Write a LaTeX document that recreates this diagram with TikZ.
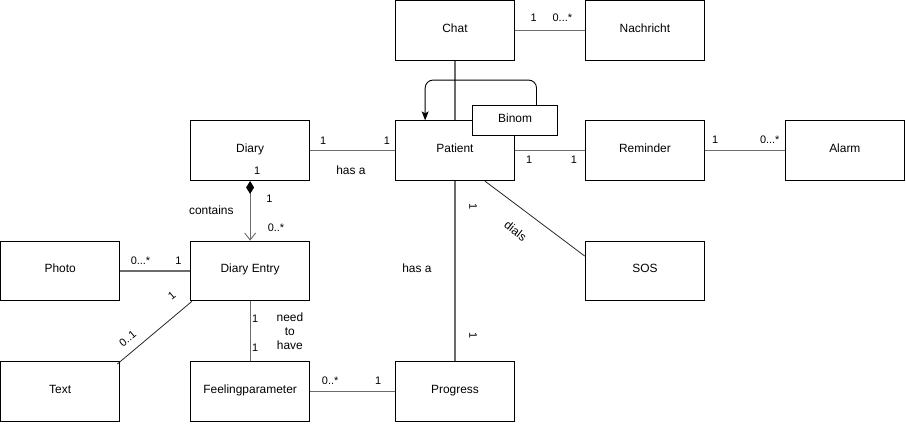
\documentclass[tikz,border=0pt]{standalone}
\usepackage{fontspec}
\setmainfont{Liberation Sans}
\usepackage{tikz}
\usetikzlibrary{arrows.meta,positioning,calc}
\tikzset{
  umlclass/.style={draw, line width=1pt, fill=white, minimum width=120pt, minimum height=60pt, inner sep=0pt, text height=9pt, text depth=5pt, font=\fontsize{12pt}{14pt}\selectfont},
  umlrole/.style={draw, line width=1pt, fill=white, minimum width=85pt, minimum height=30pt, inner sep=0pt, text height=9pt, text depth=4pt, font=\fontsize{12pt}{14pt}\selectfont},
  umlassoc/.style={draw=black!58, line width=1.2pt},
  umldiag/.style={draw=black!85, line width=0.8pt},
  umlcomp/.style={draw=black!58, line width=1.2pt, {Diamond[length=13pt,width=8pt,color=black,fill=black]}-{Straight Barb[length=7pt,width=11pt,line width=0.9pt]}},
  umlself/.style={draw=black, line width=0.9pt, rounded corners=8pt, -{Stealth[length=9pt,width=7pt,inset=2pt]}},
  umlmult/.style={inner sep=0pt, font=\fontsize{11pt}{13pt}\selectfont},
  umllabel/.style={inner sep=0pt, align=center, font=\fontsize{12pt}{14.5pt}\selectfont}
}
\begin{document}
\begin{tikzpicture}[node distance=60pt and 70pt]
\node[umlclass] (pat) {Patient};
\node[umlclass, above=of pat] (chat) {Chat};
\node[umlclass, right=of chat] (msg) {Nachricht};
\node[umlclass, right=of pat] (rem) {Reminder};
\node[umlclass, right=80pt of rem] (alarm) {Alarm};
\node[umlclass, below=of rem] (sos) {SOS};
\node[umlclass, left=85pt of pat] (diary) {Diary};
\node[umlclass, below=of diary] (entry) {Diary Entry};
\node[umlclass, left=of entry] (photo) {Photo};
\node[umlclass, below=of photo] (txt) {Text};
\node[umlclass, below=of entry] (feel) {Feelingparameter};
\node[umlclass, right=85pt of feel] (prog) {Progress};
\useasboundingbox (photo.west |- chat.north) rectangle ([shift={(1pt,-2pt)}]alarm.east |- txt.south);
% associations
\draw[umlassoc] (chat) -- (msg)
  node[umlmult, pos=0, xshift=18.5pt, yshift=13pt] (cm1) {1}
  node[umlmult, pos=1, xshift=-22.5pt, yshift=13pt] (cm2) {0...*};
\draw[umlassoc] (chat) -- (pat);
\draw[umlassoc] (diary) -- (pat)
  node[umlmult, pos=0, xshift=13pt, yshift=10pt] (dp1) {1}
  node[umlmult, pos=1, xshift=-8pt, yshift=10pt] (dp2) {1}
  node[umllabel, pos=0.48, yshift=-20pt] (dp3) {has a};
\draw[umlcomp] (diary) -- (entry)
  node[umlmult, pos=0, xshift=7pt, yshift=10pt] (de0) {1}
  node[umlmult, pos=0, xshift=19.3pt, yshift=-18.3pt] (de1) {1}
  node[umlmult, pos=1, xshift=26pt, yshift=13.3pt] (de2) {0..*}
  node[umllabel, pos=0.5, xshift=-39pt, yshift=1pt] (de3) {contains};
\draw[umlassoc] (photo) -- (entry)
  node[umlmult, pos=0, xshift=20.3pt, yshift=10.7pt] (pe1) {0...*}
  node[umlmult, pos=1, xshift=-11.7pt, yshift=10.7pt] (pe2) {1};
\draw[umldiag] ([xshift=2pt]entry.south west) -- ([shift={(-3pt,-3pt)}]txt.north east)
  node[umlmult, pos=0, xshift=-20.3pt, yshift=6pt, rotate=40] (te1) {1}
  node[umlmult, pos=1, xshift=10.3pt, yshift=25.7pt, rotate=40] (te2) {0..1};
\draw[umlassoc] (entry) -- (feel)
  node[umlmult, pos=0, xshift=5pt, yshift=-17.3pt] (ef1) {1}
  node[umlmult, pos=1, xshift=5pt, yshift=13.7pt] (ef2) {1}
  node[umllabel, pos=0.5, xshift=40pt] (ef3) {need\\to\\have};
\draw[umlassoc] (feel) -- (prog)
  node[umlmult, pos=0, xshift=20pt, yshift=11pt] (fp1) {0..*}
  node[umlmult, pos=1, xshift=-16.7pt, yshift=11pt] (fp2) {1};
\draw[umlassoc] (pat) -- (prog)
  node[umlmult, pos=0, xshift=18.3pt, yshift=-26pt, rotate=-90] (pp1) {1}
  node[umlmult, pos=1, xshift=18.3pt, yshift=26pt, rotate=-90] (pp2) {1}
  node[umllabel, pos=0.49, xshift=-38.3pt, yshift=1.3pt] (pp3) {has a};
\draw[umldiag] ([xshift=30pt]pat.south) -- ([yshift=15pt]sos.west)
  node[umllabel, pos=0.5, xshift=-19.3pt, yshift=-12.5pt, rotate=-38] (ps1) {dials};
\draw[umlassoc] (pat) -- (rem)
  node[umlmult, pos=0, xshift=14pt, yshift=-9pt] (pr1) {1}
  node[umlmult, pos=1, xshift=-11pt, yshift=-9pt] (pr2) {1};
\draw[umlassoc] (rem) -- (alarm)
  node[umlmult, pos=0, xshift=10pt, yshift=11pt] (ra1) {1}
  node[umlmult, pos=1, xshift=-15pt, yshift=11pt] (ra2) {0...*};
% self association
\node[umlrole] (binom) at (pat.north east) {Binom};
\draw[umlself] ([xshift=21.5pt]binom.north) -- ++(0,25pt) -| ([xshift=-30pt]pat.north);
\end{tikzpicture}
\end{document}
